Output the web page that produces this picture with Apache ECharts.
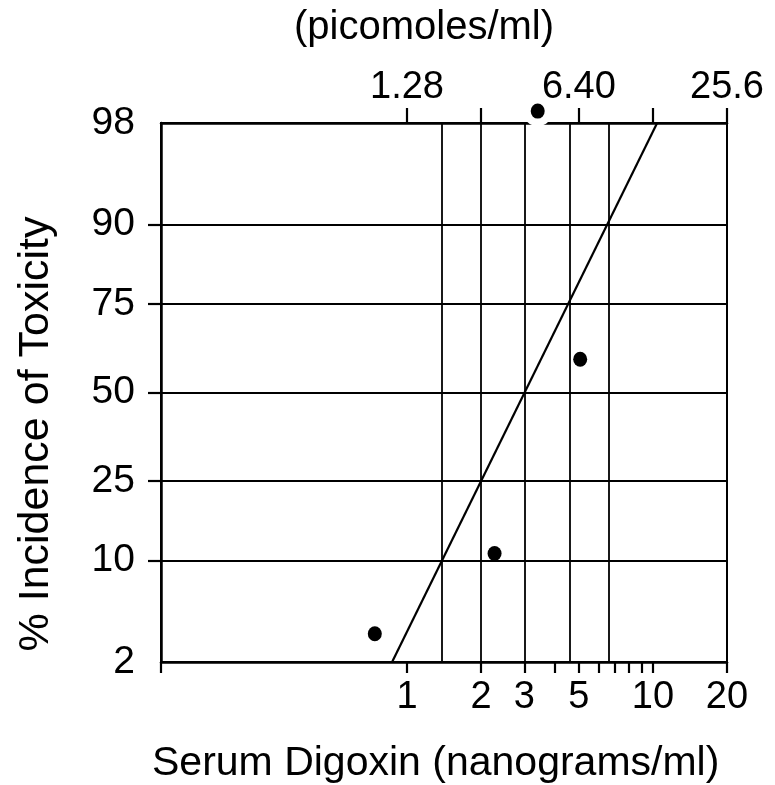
<!DOCTYPE html>
<html><head><meta charset="utf-8">
<script src="https://cdn.jsdelivr.net/npm/echarts@6/dist/echarts.min.js"></script>
<style>html,body{margin:0;padding:0;background:#fff}#c{width:775px;height:785px}</style>
</head><body><div id="c"></div>
<script>
// ---- data ----
const pointDoses = [0.74, 2.27, 5.06, 3.40];        // ng/ml
const pointPercents = [3.3, 11.0, 60.0, 98.4];     // % incidence
const fitDoses = [0.87, 10.4];
const fitPercents = [2, 98];
const dropLineDoses = [1.38, 2.0, 3.0, 4.6, 6.6];
const yTickPercents = [2, 10, 25, 50, 75, 90, 98];
const yGridPercents = [10, 25, 50, 75, 90];
const xTickValues = [0.1, 1, 2, 3, 4, 5, 6, 7, 8, 9, 10, 20];
const xLabelValues = [1, 2, 3, 5, 10, 20];
const topTickValues = [1.28, 2.56, 6.4, 12.8, 25.6];
const topLabelValues = [1.28, 6.4, 25.6];
const topLabelTexts = ['1.28', '6.40', '25.6'];

// probability (normal quantile) scale
function probit(p) {
  const a=[-3.969683028665376e+01,2.209460984245205e+02,-2.759285104469687e+02,1.383577518672690e+02,-3.066479806614716e+01,2.506628277459239e+00];
  const b=[-5.447609879822406e+01,1.615858368580409e+02,-1.556989798598866e+02,6.680131188771972e+01,-1.328068155288572e+01];
  const c=[-7.784894002430293e-03,-3.223964580411365e-01,-2.400758277161838e+00,-2.549732539343734e+00,4.374664141464968e+00,2.938163982698783e+00];
  const d=[7.784695709041462e-03,3.224671290700398e-01,2.445134137142996e+00,3.754408661907416e+00];
  const pl=0.02425, ph=1-pl; let q,r;
  if (p < pl) { q=Math.sqrt(-2*Math.log(p)); return (((((c[0]*q+c[1])*q+c[2])*q+c[3])*q+c[4])*q+c[5])/((((d[0]*q+d[1])*q+d[2])*q+d[3])*q+1); }
  if (p <= ph) { q=p-0.5; r=q*q; return (((((a[0]*r+a[1])*r+a[2])*r+a[3])*r+a[4])*r+a[5])*q/(((((b[0]*r+b[1])*r+b[2])*r+b[3])*r+b[4])*r+1); }
  q=Math.sqrt(-2*Math.log(1-p)); return -(((((c[0]*q+c[1])*q+c[2])*q+c[3])*q+c[4])*q+c[5])/((((d[0]*q+d[1])*q+d[2])*q+d[3])*q+1);
}
const pz = v => probit(v / 100);
const yLabelZ = yTickPercents.map(pz);
const yGridZ = yGridPercents.map(pz);
const yMin = pz(yTickPercents[0]), yMax = pz(yTickPercents[yTickPercents.length - 1]);

function nearestIdx(arr, v, f) {
  let best = 0, bd = Infinity;
  arr.forEach((a, i) => { const dd = Math.abs((f ? f(a) : a) - (f ? f(v) : v)); if (dd < bd) { bd = dd; best = i; } });
  return best;
}

const pts = pointDoses.map((d, i) => [d, pz(pointPercents[i])]);
const haloPts = pts.filter((p, i) => pointPercents[i] > yTickPercents[yTickPercents.length - 1]);
const fitLine = fitDoses.map((d, i) => [d, pz(fitPercents[i])]);

const FONT = '"Liberation Sans", Arial, Helvetica, sans-serif';
const chart = echarts.init(document.getElementById('c'), null, { renderer: 'canvas' });
chart.setOption({
  animation: false,
  backgroundColor: '#fff',
  grid: { left: 161, right: 48, top: 123, bottom: 123, show: true, borderColor: '#000', borderWidth: 2, backgroundColor: 'transparent' },
  xAxis: [
    {
      type: 'log', logBase: 10, min: 0.1, max: 20, position: 'bottom',
      axisLine: { show: true, onZero: false, lineStyle: { color: '#000', width: 2.5 } },
      axisTick: { show: true, length: 11, customValues: xTickValues, lineStyle: { color: '#000', width: 2.2 } },
      axisLabel: { show: true, customValues: xLabelValues, fontSize: 38, fontFamily: FONT, color: '#000', margin: 17,
        formatter: v => String(xLabelValues[nearestIdx(xLabelValues, v, Math.log)]) },
      splitLine: { show: false }, minorTick: { show: false }
    },
    {
      type: 'log', logBase: 10, min: 0.128, max: 25.6, position: 'top',
      axisLine: { show: true, onZero: false, lineStyle: { color: '#000', width: 2.5 } },
      axisTick: { show: true, length: 15, customValues: topTickValues, lineStyle: { color: '#000', width: 2.2 } },
      axisLabel: { show: true, customValues: topLabelValues, fontSize: 38, fontFamily: FONT, color: '#000', margin: 16,
        formatter: v => topLabelTexts[nearestIdx(topLabelValues, v, Math.log)] },
      splitLine: { show: false }, minorTick: { show: false }
    }
  ],
  yAxis: {
    type: 'value', min: yMin, max: yMax,
    axisLine: { show: true, onZero: false, lineStyle: { color: '#000', width: 2.5 } },
    axisTick: { show: true, length: 13, customValues: yGridZ, lineStyle: { color: '#000', width: 2.2 } },
    axisLabel: { show: true, customValues: yLabelZ, fontSize: 39, fontFamily: FONT, color: '#000', margin: 26,
      formatter: v => String(yTickPercents[nearestIdx(yLabelZ, v)]) },
    splitLine: { show: true, lineStyle: { color: '#000', width: 1.8 } }
  },
  series: [
    {
      type: 'line', xAxisIndex: 0, data: fitLine, showSymbol: false, symbol: 'none',
      lineStyle: { color: '#000', width: 2.2 }, z: 3,
      markLine: {
        silent: true, symbol: 'none', label: { show: false },
        lineStyle: { color: '#000', width: 1.8, type: 'solid', opacity: 1 },
        data: dropLineDoses.map(v => ({ xAxis: v }))
      }
    },
    {
      type: 'scatter', xAxisIndex: 0, data: haloPts, symbol: 'circle', symbolSize: 30,
      itemStyle: { color: '#fff', opacity: 1 }, clip: false, z: 4, silent: true
    },
    {
      type: 'scatter', xAxisIndex: 0, data: pts, symbol: 'circle', symbolSize: [14, 15],
      itemStyle: { color: '#000', opacity: 1 }, clip: false, z: 5
    }
  ],
  graphic: [
    { type: 'text', style: { text: '(picomoles/ml)', font: '40px ' + FONT, fill: '#000' }, top: 8, left: 294 },
    { type: 'text', style: { text: 'Serum Digoxin (nanograms/ml)', font: '41px ' + FONT, fill: '#000' }, top: 743, left: 152 },
    { type: 'text', style: { text: '% Incidence of Toxicity', font: '43px ' + FONT, fill: '#000', align: 'center', verticalAlign: 'middle' },
      x: 36, y: 434, rotation: Math.PI / 2 }
  ]
});
</script></body></html>
